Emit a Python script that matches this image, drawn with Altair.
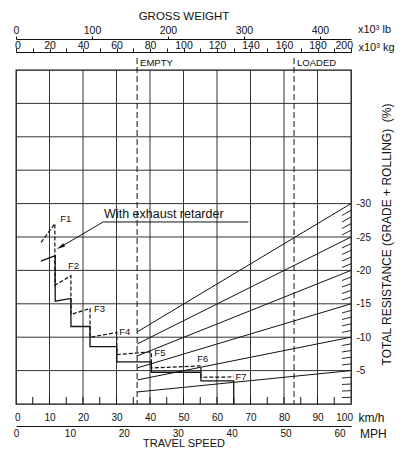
import altair as alt
import pandas as pd

FONT = "Liberation Sans"
INK = "#111111"
GRID = "#333333"
W, H = 335, 334

# ---------------- data ----------------
speed_gridlines = [10, 20, 30, 40, 50, 60, 70, 80, 90]
resistance_gridlines = [5, 10, 15, 20, 25, 30, 35, 40, 45]
speed_ticks = [5, 10, 15, 20, 25, 30, 35, 40, 45, 50, 55, 60, 65, 70, 75, 80, 85, 90, 95]
kmh_labels = [0, 10, 20, 30, 40, 50, 60, 70, 80, 90, 100]
mph_labels = [0, 10, 20, 30, 40, 50, 60]
kg_ticks = [0, 10, 20, 30, 40, 50, 60, 70, 80, 90, 100, 110, 120, 130, 140, 150, 160, 170, 180, 190, 200]
lb_labels = [0, 100, 200, 300, 400]
resistance_labels = [5, 10, 15, 20, 25, 30]

# total-resistance lines: start on EMPTY weight line, end at right edge
line_start_speed = 36.2
line_start_res = [1.8, 3.6, 5.4, 7.2, 9.0, 10.8]
line_end_res = [5, 10, 15, 20, 25, 30]
hash_res = [1, 2, 3, 4, 6, 7, 8, 9, 11, 12, 13, 14, 16, 17, 18, 19,
            21, 22, 23, 24, 26, 27, 28, 29]

# retarder curves (speed km/h, resistance %)
std_speed = [7.4, 11.7, 11.7, 16.4, 16.4, 22.1, 22.1, 30.1, 30.1, 40.4, 40.4, 55.2, 55.2, 65.0, 65.0]
std_res = [21.4, 22.2, 15.4, 15.8, 11.6, 11.6, 8.6, 8.6, 6.3, 6.3, 4.75, 4.75, 3.45, 3.45, 0.0]
exh_speed = [7.5, 11.6, 11.6, 16.4, 16.4, 22.1, 22.1, 30.1, 30.1, 40.4, 40.4, 55.2, 55.2, 65.0]
exh_res = [24.2, 27.0, 17.8, 19.2, 13.4, 14.3, 10.0, 10.7, 7.4, 7.8, 5.4, 5.7, 4.0, 4.05]

gear_labels = ["F1", "F2", "F3", "F4", "F5", "F6", "F7"]
gear_label_speed = [13.2, 15.5, 23.3, 30.8, 41.3, 54.1, 65.5]
gear_label_res = [27.7, 20.7, 14.2, 10.8, 7.6, 6.7, 4.1]

weight_marks = ["EMPTY", "LOADED"]
weight_mark_kg = [72.3, 166.0]

note_text = "With exhaust retarder"
note_speed, note_res = 26.3, 28.4
underline_speed = [26.0, 69.4]
underline_res = 27.25
arrow_from = (26.0, 27.25)
arrow_tip = (13.3, 23.5)

# ---------------- scales & axes ----------------
XS = alt.Scale(domain=[0, 100], nice=False, zero=False)
YS = alt.Scale(domain=[0, 50], nice=False, zero=False)
KG = alt.Scale(domain=[0, 200], nice=False, zero=False)
LB = alt.Scale(domain=[0, 200 * 2.20462], nice=False, zero=False)
MPH = alt.Scale(domain=[0, 100 / 1.609344], nice=False, zero=False)

txt = dict(font=FONT, color=INK)

res_axis = alt.Axis(
    values=resistance_labels, orient="right", domain=False, ticks=False, tickSize=0,
    grid=False, labelFont=FONT, labelFontSize=10, labelColor=INK, labelPadding=5,
    labelExpr="'-' + datum.value", labelOverlap=False, labelFlush=False,
    title="TOTAL RESISTANCE (GRADE + ROLLING) \u00a0(%)", titleAngle=270,
    titleX=35, titleY=164, titleAlign="center", titleBaseline="middle",
    titleFont=FONT, titleFontSize=12, titleFontWeight="normal", titleColor=INK,
)

kmh_axis = alt.Axis(
    values=kmh_labels, orient="bottom", domain=False, ticks=False, tickSize=0,
    grid=False, labelFont=FONT, labelFontSize=10, labelColor=INK, labelPadding=8,
    labelOverlap=False, labelFlush=True, labelFlushOffset=1.5,
    title="km/h", titleX=342, titleY=13, titleAlign="left", titleBaseline="middle",
    titleFont=FONT, titleFontSize=12, titleFontWeight="normal", titleColor=INK,
)

kg_axis = alt.Axis(
    values=kg_ticks, orient="top", offset=18, domain=True, domainColor=INK, domainWidth=1,
    ticks=True, tickSize=4, tickColor=INK, tickWidth=1, grid=False,
    labelFont=FONT, labelFontSize=10.5, labelColor=INK, labelPadding=-2,
    labelExpr="datum.value % 20 == 0 ? datum.label : ''", labelOverlap=False,
    labelFlush=True, labelFlushOffset=1.5,
    title="x10³ kg", titleX=342, titleY=-5, titleAlign="left", titleBaseline="middle",
    titleFont=FONT, titleFontSize=11, titleFontWeight="normal", titleColor=INK,
)

lb_axis = alt.Axis(
    values=lb_labels, orient="top", offset=31, domain=True, domainColor=INK, domainWidth=1,
    ticks=True, tickSize=3, tickColor=INK, grid=False,
    labelFont=FONT, labelFontSize=10.5, labelColor=INK, labelPadding=1,
    labelOverlap=False, labelFlush=False,
    title="GROSS WEIGHT", titleX=W / 2, titleY=-23, titleAlign="center", titleBaseline="middle",
    titleFont=FONT, titleFontSize=11.5, titleFontWeight="normal", titleColor=INK,
)

mph_axis = alt.Axis(
    values=mph_labels, orient="bottom", offset=22, domain=True, domainColor=INK, domainWidth=1,
    ticks=False, tickSize=0, grid=False,
    labelFont=FONT, labelFontSize=10, labelColor=INK, labelPadding=2,
    labelOverlap=False, labelFlush=False,
    title="TRAVEL SPEED", titleX=W / 2, titleY=17.5, titleAlign="center", titleBaseline="middle",
    titleFont=FONT, titleFontSize=11, titleFontWeight="normal", titleColor=INK,
)


def xq(f, axis=None, scale=XS):
    return alt.X(f, type="quantitative", scale=scale, axis=axis)


def yq(f):
    return alt.Y(f, type="quantitative", scale=YS, axis=res_axis)


# ---------------- layers ----------------
vgrid = alt.Chart(pd.DataFrame({"speed": speed_gridlines})).mark_rule(
    color=GRID, strokeWidth=1).encode(x=xq("speed"))

hgrid = alt.Chart(pd.DataFrame({"res": resistance_gridlines})).mark_rule(
    color=GRID, strokeWidth=1).encode(y=yq("res"))

bticks = alt.Chart(pd.DataFrame({"speed": speed_ticks})).mark_rule(
    color=INK, strokeWidth=1).encode(
    x=xq("speed", axis=kmh_axis), y=alt.value(H), y2=alt.value(H - 7))

res_lines = alt.Chart(pd.DataFrame({
    "s0": [line_start_speed] * len(line_end_res), "r0": line_start_res,
    "s1": [100] * len(line_end_res), "r1": line_end_res,
})).mark_rule(color=INK, strokeWidth=1).encode(
    x=xq("s0"), x2="s1", y=yq("r0"), y2="r1")

hash_start = 97.3
hashes = alt.Chart(pd.DataFrame({
    "s0": [hash_start] * len(hash_res), "r0": [r * hash_start / 100 for r in hash_res],
    "s1": [100] * len(hash_res), "r1": hash_res,
})).mark_rule(color=INK, strokeWidth=0.9).encode(
    x=xq("s0"), x2="s1", y=yq("r0"), y2="r1")

std_curve = alt.Chart(pd.DataFrame({
    "speed": std_speed, "res": std_res, "i": list(range(len(std_speed)))
})).mark_line(color=INK, strokeWidth=1.3).encode(
    x=xq("speed"), y=yq("res"), order="i:O")

exh_curve = alt.Chart(pd.DataFrame({
    "speed": exh_speed, "res": exh_res, "i": list(range(len(exh_speed)))
})).mark_line(color=INK, strokeWidth=1.2, strokeDash=[4, 2]).encode(
    x=xq("speed"), y=yq("res"), order="i:O")

gear_text = alt.Chart(pd.DataFrame({
    "speed": gear_label_speed, "res": gear_label_res, "lab": gear_labels
})).mark_text(align="left", baseline="middle", fontSize=9.5, **txt).encode(
    x=xq("speed"), y=yq("res"), text="lab:N")

note = alt.Chart(pd.DataFrame({"speed": [note_speed], "res": [note_res], "t": [note_text]})).mark_text(
    align="left", baseline="middle", fontSize=12.5, **txt).encode(
    x=xq("speed"), y=yq("res"), text="t:N")

underline = alt.Chart(pd.DataFrame({
    "s0": [underline_speed[0]], "s1": [underline_speed[1]], "r": [underline_res]
})).mark_rule(color=INK, strokeWidth=1).encode(x=xq("s0"), x2="s1", y=yq("r"))

pointer = alt.Chart(pd.DataFrame({
    "s0": [arrow_from[0]], "r0": [arrow_from[1]], "s1": [arrow_tip[0]], "r1": [arrow_tip[1]]
})).mark_rule(color=INK, strokeWidth=1).encode(x=xq("s0"), x2="s1", y=yq("r0"), y2="r1")

arrowhead = alt.Chart(pd.DataFrame({"speed": [arrow_tip[0]], "res": [arrow_tip[1]]})).mark_point(
    shape="M0,-1L0.45,1L-0.45,1Z", filled=True, size=70, angle=240,
    color=INK, opacity=1).encode(x=xq("speed"), y=yq("res"))

wdf = pd.DataFrame({"kg": weight_mark_kg, "lab": weight_marks})
weight_rules = alt.Chart(wdf).mark_rule(color=INK, strokeWidth=1, strokeDash=[6, 3]).encode(
    x=xq("kg", axis=kg_axis, scale=KG), y=alt.value(-12), y2=alt.value(H))
weight_text = alt.Chart(wdf).mark_text(align="left", baseline="middle", dx=3, fontSize=9.5, **txt).encode(
    x=xq("kg", scale=KG), y=alt.value(-7), text="lab:N")

lb_dummy = alt.Chart(pd.DataFrame({"lb": lb_labels})).mark_rule(opacity=0).encode(
    x=xq("lb", axis=lb_axis, scale=LB))
lb_unit = alt.Chart(pd.DataFrame({"t": ["x10³ lb"]})).mark_text(
    align="left", baseline="middle", fontSize=11, **txt).encode(
    x=alt.value(342), y=alt.value(-40), text="t:N")

mph_dummy = alt.Chart(pd.DataFrame({"mph": mph_labels})).mark_rule(opacity=0).encode(
    x=xq("mph", axis=mph_axis, scale=MPH))
mph_unit = alt.Chart(pd.DataFrame({"t": ["MPH"]})).mark_text(
    align="left", baseline="middle", fontSize=12, **txt).encode(
    x=alt.value(344), y=alt.value(364), text="t:N")

chart = alt.layer(
    vgrid, hgrid, bticks, res_lines, hashes, std_curve, exh_curve,
    gear_text, note, underline, pointer, arrowhead,
    weight_rules, weight_text, lb_dummy, lb_unit, mph_dummy, mph_unit,
).resolve_scale(
    x="independent"
).properties(
    width=W, height=H,
    autosize=alt.AutoSizeParams(type="none"),
    padding={"left": 8, "top": 62, "right": 46, "bottom": 45},
    background="white",
).configure_view(stroke=INK, strokeWidth=1.3)

chart.save("out.html", embed_options={"renderer": "svg", "actions": False})
